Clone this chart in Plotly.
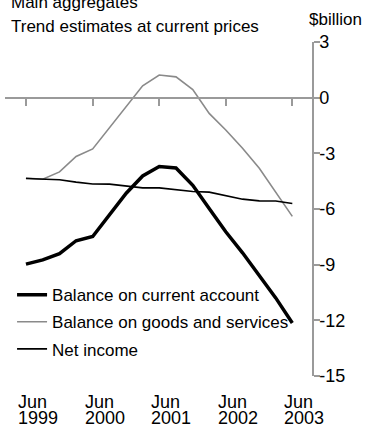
import plotly.graph_objects as go

quarters = ["1999-06-30", "1999-09-30", "1999-12-31", "2000-03-31", "2000-06-30",
            "2000-09-30", "2000-12-31", "2001-03-31", "2001-06-30", "2001-09-30",
            "2001-12-31", "2002-03-31", "2002-06-30", "2002-09-30", "2002-12-31",
            "2003-03-31", "2003-06-30"]

current_account = [-8.97, -8.74, -8.41, -7.71, -7.48, -6.3, -5.15, -4.22, -3.71, -3.79,
                   -4.72, -5.97, -7.23, -8.36, -9.55, -10.79, -12.14]
goods_services = [-4.33, -4.40, -4.00, -3.17, -2.76, -1.60, -0.48, 0.64, 1.22, 1.12,
                  0.44, -0.85, -1.74, -2.73, -3.80, -5.06, -6.40]
net_income = [-4.36, -4.40, -4.42, -4.55, -4.65, -4.66, -4.76, -4.86, -4.86, -4.96,
              -5.06, -5.09, -5.28, -5.47, -5.56, -5.57, -5.70]

tick_dates = ["1999-06-30", "2000-06-30", "2001-06-30", "2002-06-30", "2003-06-30"]
tick_months = ["Jun", "Jun", "Jun", "Jun", "Jun"]
tick_years = ["1999", "2000", "2001", "2002", "2003"]

y_ticks = [3, 0, -3, -6, -9, -12, -15]
y_ticktext = ["3", "0", "-3", "-6", "-9", "-12", "-15"]

FONT = "Liberation Sans, Arial, sans-serif"
AXIS_GREY = "#9a9a9a"
SERIES_GREY = "#8a8a8a"

fig = go.Figure()
fig.add_trace(go.Scatter(x=quarters, y=current_account, mode="lines",
                         name="Balance on current account", legendgroup="a",
                         line=dict(color="#000000", width=3.5)))
fig.add_trace(go.Scatter(x=quarters, y=goods_services, mode="lines",
                         name="Balance on goods and services", legendgroup="b",
                         line=dict(color=SERIES_GREY, width=1.6)))
fig.add_trace(go.Scatter(x=quarters, y=net_income, mode="lines",
                         name="Net income", legendgroup="c",
                         line=dict(color="#000000", width=1.6)))

annotations = [
    dict(text="Main aggregates", x=0.013, y=1.119, xref="paper", yref="paper",
         xanchor="left", yanchor="middle", showarrow=False,
         font=dict(size=17, color="#000")),
    dict(text="Trend estimates at current prices", x=0.013, y=1.045, xref="paper", yref="paper",
         xanchor="left", yanchor="middle", showarrow=False,
         font=dict(size=17, color="#000")),
    dict(text="$billion", x=0.985, y=1.068, xref="paper", yref="paper",
         xanchor="left", yanchor="middle", showarrow=False,
         font=dict(size=17, color="#000")),
]
for d, m, yr in zip(tick_dates, tick_months, tick_years):
    annotations.append(dict(text=m, x=d, y=-0.077, xref="x", yref="paper",
                            xanchor="left", yanchor="middle", xshift=-10, showarrow=False,
                            font=dict(size=18, color="#000")))
    annotations.append(dict(text=yr, x=d, y=-0.126, xref="x", yref="paper",
                            xanchor="left", yanchor="middle", xshift=-10, showarrow=False,
                            font=dict(size=18, color="#000")))

fig.update_layout(
    width=366, height=435,
    margin=dict(l=5, r=54, t=42, b=59),
    paper_bgcolor="white", plot_bgcolor="white",
    font=dict(family=FONT, size=17, color="#000"),
    showlegend=True,
    legend=dict(x=0.023, y=0.296, xanchor="left", yanchor="top",
                bgcolor="rgba(0,0,0,0)", font=dict(size=17), itemwidth=30,
                tracegroupgap=2),
    xaxis=dict(type="date", range=["1999-03-07", "2003-10-16"],
               anchor="free", position=15 / 18,
               showline=True, linecolor=AXIS_GREY, linewidth=1.5,
               showgrid=False, zeroline=False,
               tickvals=tick_dates, ticks="outside", ticklen=8,
               tickcolor=AXIS_GREY, tickwidth=1.5, showticklabels=False),
    yaxis=dict(range=[-15, 3], side="right", showline=True, linecolor=AXIS_GREY,
               linewidth=1.5, showgrid=False, zeroline=False,
               tickvals=y_ticks, ticktext=y_ticktext, ticks="outside", ticklen=6,
               tickcolor=AXIS_GREY, tickwidth=1.5, tickfont=dict(size=18),
               ticklabelstandoff=-4),
    annotations=annotations,
)

fig.write_html("out.html", config={"displayModeBar": False},
               post_script="document.body.style.margin='0';")
